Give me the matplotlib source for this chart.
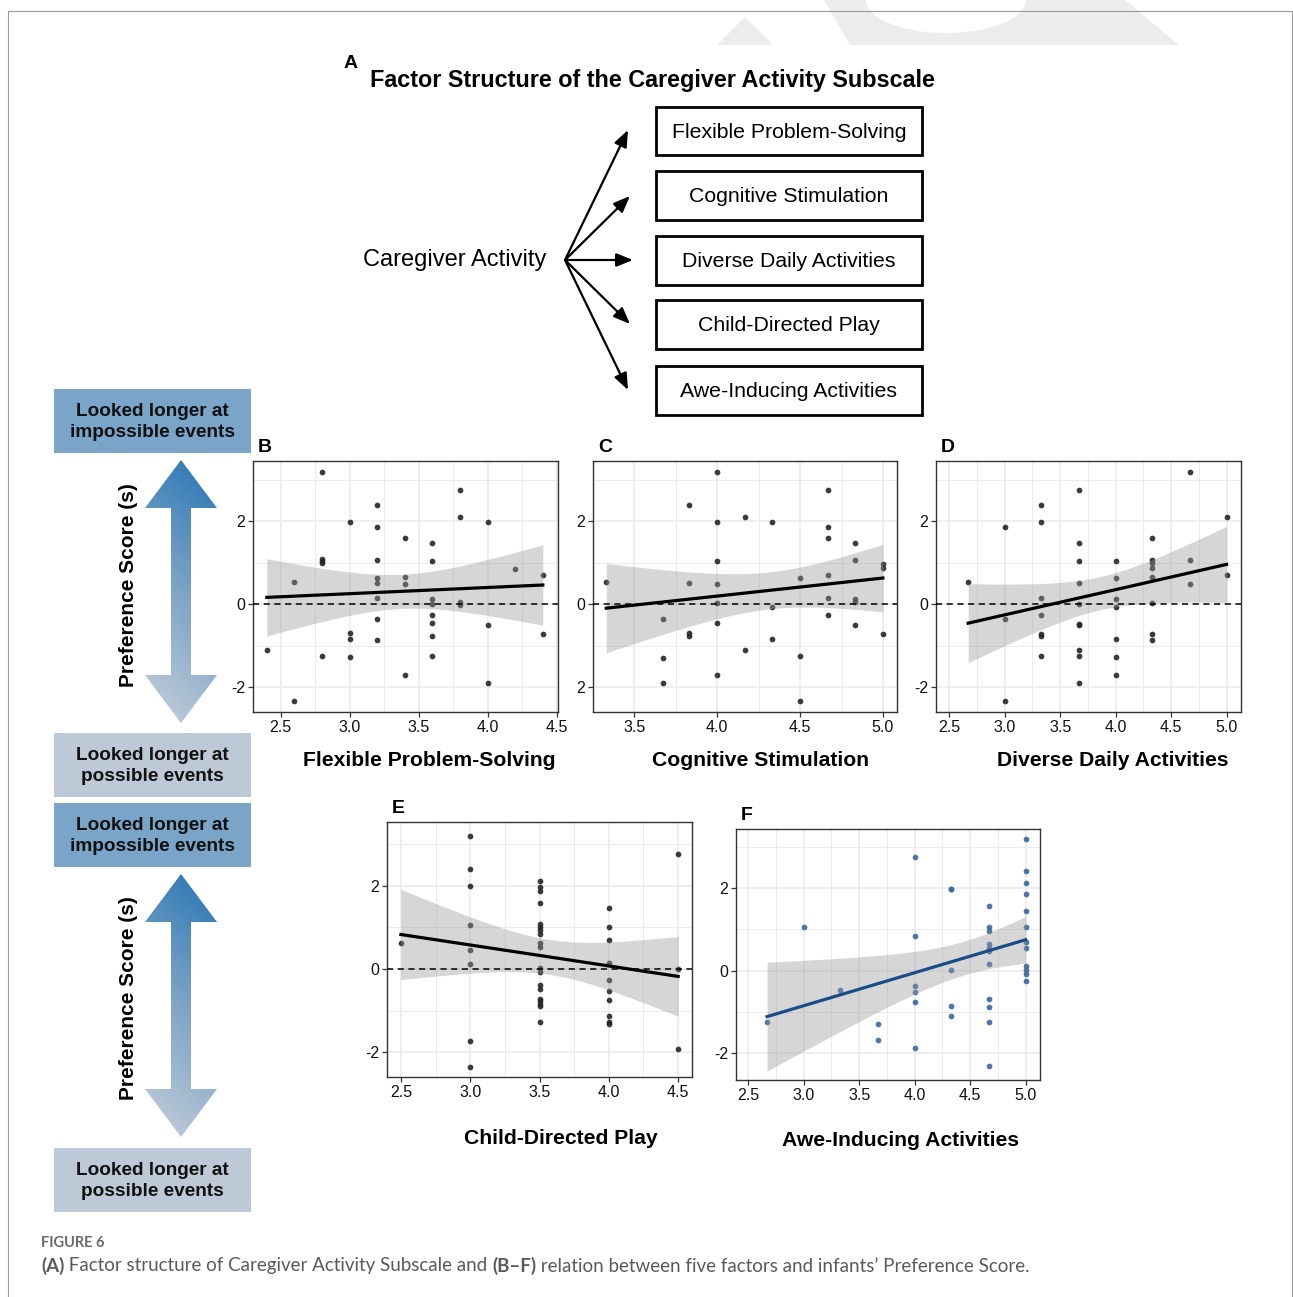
import numpy as np
import matplotlib
matplotlib.use("Agg")
import matplotlib.pyplot as plt
from matplotlib.patches import Polygon, Rectangle
from matplotlib.colors import LinearSegmentedColormap

plt.rcParams['font.family'] = ['Liberation Sans', 'DejaVu Sans']

W, H = 1293, 1297

# ---- datos ----
factores = ["Flexible Problem-Solving", "Cognitive Stimulation", "Diverse Daily Activities",
            "Child-Directed Play", "Awe-Inducing Activities"]

B_x = [2.8, 3.8, 3.2, 3.8, 3.0, 4.0, 3.2, 3.4, 3.6, 2.8, 2.8, 2.8, 3.2, 3.6, 4.2, 4.4, 2.6,
       3.2, 3.2, 3.4, 3.4, 3.2, 3.6, 3.6, 3.8, 3.8, 3.2, 3.6, 3.6, 4.0, 3.0, 3.0, 3.2, 3.6,
       4.4, 2.4, 2.8, 3.0, 3.6, 3.4, 4.0, 2.6]
B_y = [3.19, 2.75, 2.40, 2.11, 1.97, 1.99, 1.87, 1.59, 1.48, 1.09, 1.04, 0.98, 1.06, 1.04,
       0.85, 0.70, 0.53, 0.64, 0.52, 0.65, 0.48, 0.15, 0.12, 0.0, 0.06, -0.03, -0.36, -0.25,
       -0.46, -0.50, -0.70, -0.85, -0.87, -0.77, -0.72, -1.10, -1.26, -1.28, -1.24, -1.71,
       -1.89, -2.33]

C_x = [4.0, 4.67, 3.83, 4.0, 4.17, 4.33, 4.67, 4.67, 4.83, 4.0, 4.83, 5.0, 5.0, 3.33, 3.83,
       4.0, 4.5, 4.67, 4.67, 4.83, 4.83, 4.0, 4.33, 3.67, 4.0, 4.67, 4.83, 5.0, 3.83, 3.83,
       4.33, 4.17, 4.5, 3.67, 4.0, 3.67, 4.5]
C_y = [3.19, 2.75, 2.40, 1.99, 2.11, 1.97, 1.87, 1.59, 1.48, 1.04, 1.06, 0.96, 0.86, 0.53,
       0.52, 0.48, 0.64, 0.70, 0.15, 0.12, 0.06, 0.02, -0.06, -0.36, -0.46, -0.25, -0.50,
       -0.72, -0.70, -0.76, -0.85, -1.10, -1.25, -1.29, -1.71, -1.89, -2.33]

D_x = [4.67, 3.67, 3.33, 3.33, 3.0, 5.0, 3.67, 4.33, 3.67, 4.0, 4.33, 4.33, 4.33, 4.67, 2.67,
       3.67, 4.0, 4.33, 5.0, 4.67, 3.33, 4.0, 3.67, 4.0, 4.33, 3.0, 3.33, 3.67, 3.67, 3.33,
       3.33, 4.0, 4.33, 4.33, 3.67, 3.33, 3.67, 4.0, 4.0, 3.67, 3.0]
D_y = [3.19, 2.75, 2.40, 1.99, 1.87, 2.11, 1.48, 1.60, 1.04, 1.03, 1.06, 0.98, 0.86, 1.07,
       0.53, 0.52, 0.63, 0.65, 0.70, 0.48, 0.15, 0.12, 0.01, -0.06, 0.03, -0.36, -0.25,
       -0.47, -0.51, -0.71, -0.77, -0.85, -0.71, -0.86, -1.10, -1.24, -1.26, -1.28, -1.71,
       -1.89, -2.33]

E_x = [3.0, 3.0, 3.0, 3.0, 3.0, 3.0, 3.0, 3.0, 2.5,
       3.5, 3.5, 3.5, 3.5, 3.5, 3.5, 3.5, 3.5, 3.5, 3.5, 3.5, 3.5, 3.5, 3.5, 3.5, 3.5, 3.5,
       3.5, 3.5,
       4.0, 4.0, 4.0, 4.0, 4.0, 4.0, 4.0, 4.0, 4.0, 4.0,
       4.5, 4.5, 4.5]
E_y = [3.20, 2.41, 1.99, 1.05, 0.46, 0.11, -1.73, -2.37, 0.63,
       2.11, 1.98, 1.88, 1.59, 1.08, 1.02, 0.95, 0.85, 0.63, 0.54, 0.02, -0.07, -0.38, -0.48,
       -0.72, -0.78, -0.84, -0.89, -1.28,
       1.48, 1.02, 0.69, 0.15, -0.26, -0.52, -0.74, -1.13, -1.28, -1.33,
       2.76, 0.0, -1.92]

F_x = [5.0, 5.0, 5.0, 5.0, 5.0, 5.0, 5.0, 5.0, 5.0, 5.0, 5.0, 5.0,
       4.0, 4.0, 4.0, 4.0, 4.0, 4.0,
       4.33, 4.33, 4.33, 4.33, 4.33,
       4.67, 4.67, 4.67, 4.67, 4.67, 4.67, 4.67, 4.67, 4.67, 4.67, 4.67,
       3.0, 3.33, 2.67, 3.67, 3.67]
F_y = [3.20, 2.41, 2.12, 1.87, 1.45, 1.05, 0.70, 0.54, 0.12, 0.02, -0.08, -0.25,
       2.77, 0.85, -0.37, -0.51, -0.77, -1.89,
       1.99, 1.97, 0.02, -0.85, -1.11,
       1.58, 1.05, 0.95, 0.65, 0.55, 0.47, 0.15, -0.70, -0.88, -1.26, -2.33,
       1.07, -0.47, -1.24, -1.29, -1.70]

fig = plt.figure(figsize=(W / 100, H / 100), dpi=100)


def caja(l, t, r, b):
    return [l / W, 1 - b / H, (r - l) / W, (b - t) / H]


# capa de anotaciones en pixeles
ax0 = fig.add_axes([0, 0, 1, 1])
ax0.set_xlim(0, W)
ax0.set_ylim(H, 0)
ax0.axis('off')


def panel(pos, xs, ys, xlim, ylim, xticks, letra, titulo, tpos,
          color_pt='#262626', color_ln='black', ylabels=("-2", "0", "2")):
    ax = fig.add_axes(caja(*pos))
    x = np.array(xs)
    y = np.array(ys)
    ax.set_xticks(xticks)
    ax.set_xticklabels([f"{v:.1f}" for v in xticks])
    ax.set_xticks(np.arange(xticks[0] - 0.25, xticks[-1] + 0.5, 0.5), minor=True)
    ax.set_yticks([-2, 0, 2])
    ax.set_yticklabels(list(ylabels))
    ax.set_yticks([-3, -1, 1, 3], minor=True)
    ax.set_xlim(*xlim)
    ax.set_ylim(*ylim)
    ax.grid(True, which='major', color='#ebebeb', lw=1.2, zorder=0)
    ax.grid(True, which='minor', color='#ebebeb', lw=0.7, zorder=0)
    ax.set_axisbelow(True)
    ax.tick_params(which='major', length=3.5, width=0.9, color='#333333',
                   labelsize=11.5, labelcolor='#111111', pad=2)
    ax.tick_params(which='minor', length=0)
    for s in ax.spines.values():
        s.set_color('#333333')
        s.set_linewidth(1.0)

    ax.scatter(x, y, s=17, color=color_pt, alpha=0.9, linewidths=0, zorder=2)

    # regresion lineal con IC 95%
    n = len(x)
    b1, b0 = np.polyfit(x, y, 1)
    res = y - (b0 + b1 * x)
    s = np.sqrt(np.sum(res ** 2) / (n - 2))
    xg = np.linspace(x.min(), x.max(), 80)
    yg = b0 + b1 * xg
    se = s * np.sqrt(1 / n + (xg - x.mean()) ** 2 / np.sum((x - x.mean()) ** 2))
    t = 2.02
    ax.fill_between(xg, yg - t * se, yg + t * se, color='#999999', alpha=0.4,
                    linewidth=0, zorder=3)
    if color_ln == 'black':
        ax.axhline(0, color='black', lw=1.1, ls=(0, (4, 3)), zorder=4)
    ax.plot(xg, yg, color=color_ln, lw=2.3, zorder=5)
    ax.set_xlim(*xlim)
    ax.set_ylim(*ylim)

    ax0.text(pos[0] + 5, pos[1] - 5, letra, fontsize=14, fontweight='bold',
             ha='left', va='bottom')
    ax0.text(tpos[0], tpos[1], titulo, fontsize=15.2, fontweight='bold',
             ha='center', va='center')
    return ax


panel((253, 461, 558, 712), B_x, B_y, (2.3, 4.51), (-2.6, 3.45),
      [2.5, 3.0, 3.5, 4.0, 4.5], "B", factores[0], (429, 760))
panel((593, 461, 897, 712), C_x, C_y, (3.25, 5.085), (-2.6, 3.45),
      [3.5, 4.0, 4.5, 5.0], "C", factores[1], (760, 760), ylabels=("2", "0", "2"))
panel((936, 461, 1241, 712), D_x, D_y, (2.38, 5.13), (-2.6, 3.45),
      [2.5, 3.0, 3.5, 4.0, 4.5, 5.0], "D", factores[2], (1113, 760))
panel((387, 822, 692, 1077), E_x, E_y, (2.4, 4.6), (-2.6, 3.54),
      [2.5, 3.0, 3.5, 4.0, 4.5], "E", factores[3], (561, 1139))
panel((736, 829, 1040, 1080), F_x, F_y, (2.39, 5.13), (-2.66, 3.44),
      [2.5, 3.0, 3.5, 4.0, 4.5, 5.0], "F", factores[4], (901, 1141),
      color_pt='#3b67a0', color_ln='#1b4c8a')

# ---- panel A: estructura factorial ----
ax0.text(351, 63, "A", fontsize=14, fontweight='bold', ha='center', va='center')
ax0.text(652, 80, "Factor Structure of the Caregiver Activity Subscale",
         fontsize=16.8, fontweight='bold', ha='center', va='center')
ax0.text(455, 260, "Caregiver Activity", fontsize=17, ha='center', va='center')

cajas_y = [(107, 155), (171, 220), (236, 285), (300, 349), (366, 415)]
puntas = [(628, 130), (630, 196), (633, 260), (630, 324), (628, 390)]
for nombre, (t, b), (px, py) in zip(factores, cajas_y, puntas):
    ax0.add_patch(Rectangle((656, t), 266, b - t, facecolor='white',
                            edgecolor='black', lw=2))
    ax0.text(789, (t + b) / 2 + 1, nombre, fontsize=15.3, ha='center', va='center')
    ax0.annotate("", xy=(px, py), xytext=(565, 260),
                 arrowprops=dict(arrowstyle='-|>,head_length=1.0,head_width=0.4',
                                 color='black', lw=1.6, shrinkA=0, shrinkB=0))

# ---- lado izquierdo: cajas y flechas degradadas ----
azul_caja = '#7ba4c9'
gris_caja = '#bdc9d6'
etiquetas = [(389, 453, azul_caja, "Looked longer at\nimpossible events"),
             (733, 797, gris_caja, "Looked longer at\npossible events"),
             (803, 867, azul_caja, "Looked longer at\nimpossible events"),
             (1148, 1212, gris_caja, "Looked longer at\npossible events")]
for t, b, col, txt in etiquetas:
    ax0.add_patch(Rectangle((54, t), 197, b - t, facecolor=col, edgecolor='none'))
    ax0.text(152, (t + b) / 2 + 1, txt, fontsize=13.7, fontweight='bold', ha='center',
             va='center', linespacing=1.3, color='#111111')

cmap = LinearSegmentedColormap.from_list('flecha', ['#2474b3', '#7ea4c6', '#c6d0da'])


def flecha_doble(cx, arriba, abajo):
    hw, sw, hh = 36, 10, 48
    pts = [(cx, arriba), (cx + hw, arriba + hh), (cx + sw, arriba + hh),
           (cx + sw, abajo - hh), (cx + hw, abajo - hh), (cx, abajo),
           (cx - hw, abajo - hh), (cx - sw, abajo - hh), (cx - sw, arriba + hh),
           (cx - hw, arriba + hh)]
    poly = Polygon(pts, closed=True, facecolor='none', edgecolor='none')
    ax0.add_patch(poly)
    yy, xx = np.mgrid[0:1:200j, 0:1:200j]
    grad = 0.8 * yy + 0.2 * (1 - xx)
    im = ax0.imshow(grad, cmap=cmap, extent=(cx - hw, cx + hw, abajo, arriba),
                    aspect='auto', interpolation='bilinear', zorder=1)
    im.set_clip_path(poly)


flecha_doble(181, 460, 723)
flecha_doble(181, 874, 1137)
ax0.set_xlim(0, W)
ax0.set_ylim(H, 0)

for yc in (585, 998):
    ax0.text(128, yc, "Preference Score (s)", fontsize=15, fontweight='bold',
             rotation=90, ha='center', va='center')

# ---- marca de agua y marco ----
ax0.add_patch(Polygon([(717, 45), (745, 17), (773, 45)], closed=True,
                      facecolor='#ececec', edgecolor='none'))
ang = np.linspace(0, np.pi, 40)
curva = [(946 + 80 * np.cos(a), 33 * np.sin(a)) for a in ang]
ax0.add_patch(Polygon([(824, 0), (850, 45), (1179, 45), (1125, 0)] + curva,
                      closed=True, facecolor='#ececec', edgecolor='none'))
ax0.plot([8, 8, 1292, 1292], [H, 11, 11, H], color='#9a9a9a', lw=0.8)

# ---- pie de figura ----
ax0.text(41, 1243, "FIGURE 6", fontsize=10.5, color='#6a6a6a', fontweight='bold',
         family=['Lato', 'DejaVu Sans'], va='center')
renderer = fig.canvas.get_renderer()
partes = [("(A)", 'bold'), (" Factor structure of Caregiver Activity Subscale and ", 'normal'),
          ("(B\u2013F)", 'bold'),
          (" relation between five factors and infants\u2019 Preference Score.", 'normal')]
xc = 41
for txt, peso in partes:
    tt = ax0.text(xc, 1266, txt, fontsize=13.5, color='#5a5a5a', fontweight=peso,
                  family=['Lato', 'DejaVu Sans'], va='center')
    xc += tt.get_window_extent(renderer).width

fig.savefig("out.png", dpi=100)
